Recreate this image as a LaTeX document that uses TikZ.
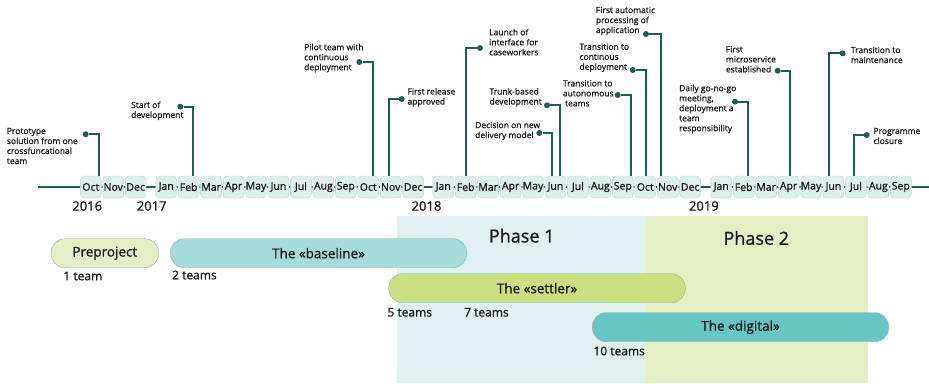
\documentclass[tikz,border=0pt]{standalone}
\usepackage{fontspec}
\setmainfont{Open Sans}[FakeBold=1]
\usetikzlibrary{positioning}

\definecolor{stemcol}{HTML}{1E5B5B}
\definecolor{boxfill}{HTML}{DCEFEA}
\definecolor{boxline}{HTML}{B4D8CF}
\definecolor{txtcol}{HTML}{1A1A1A}
\definecolor{phaseone}{HTML}{DFF0EE}
\definecolor{phasetwo}{HTML}{E5EDC4}
\definecolor{barline}{HTML}{8FB0A8}
\definecolor{prefill}{HTML}{E5EDC4}
\definecolor{basefill}{HTML}{A6DBDB}
\definecolor{settfill}{HTML}{CBDF80}
\definecolor{digifill}{HTML}{67C6C4}

\tikzset{
  mbox/.style={draw=boxline, fill=boxfill, rounded corners=4pt, minimum width=21pt,
    minimum height=22pt, inner sep=0pt, text=txtcol, font=\fontsize{10.5}{12}\selectfont},
  ev/.style={circle, fill=stemcol, inner sep=0pt, minimum size=6pt},
  evtext/.style={align=left, anchor=west, inner sep=0pt, text=txtcol,
    font=\fontsize{8.5}{10}\selectfont},
  stem/.style={draw=stemcol, line width=2pt},
  year/.style={text=txtcol, font=\fontsize{13}{15}\selectfont},
  bar/.style={draw=barline, rounded corners=14pt, minimum height=29pt, inner sep=0pt,
    text=txtcol, font=\fontsize{13.5}{15}\selectfont},
  teams/.style={anchor=west, inner sep=0pt, text=txtcol, font=\fontsize{12}{14}\selectfont},
  phase/.style={text=txtcol, font=\fontsize{18}{20}\selectfont},
}

\begin{document}
\begin{tikzpicture}[x=1pt,y=-1pt]
        \useasboundingbox (0,0) rectangle (929,383);
        % phases
        \fill [phaseone] (396.7,216) rectangle (645.3,383);
        \fill [phasetwo] (645.3,216) rectangle (868,383);
        \node [phase] (ph1) at (521.7,235.7) {Phase 1};
        \node [phase] (ph2) at (756.3,238) {Phase 2};

        % time axis
        \coordinate (axl) at (38.3,187);
        \coordinate (axr) at (929,187);
        \draw [stem] (axl) -- (axr);
        \foreach \m [count=\i from 10] in {Oct,Nov,Dec}
            \node [mbox] (m16-\i) at ({90.8+22.45*(\i-10)},187) {\m};
        \foreach \m [count=\i] in {Jan,Feb,Mar,Apr,May,Jun,Jul,Aug,Sep,Oct,Nov,Dec} {
            \node [mbox] (m17-\i) at ({166.2+22.45*(\i-1)},187) {\m};
            \node [mbox] (m18-\i) at ({443.2+22.45*(\i-1)},187) {\m};
        }
        \foreach \m [count=\i] in {Jan,Feb,Mar,Apr,May,Jun,Jul,Aug,Sep}
            \node [mbox] (m19-\i) at ({721.2+22.45*(\i-1)},187) {\m};
        \node [year] (y16) at (87.2,206) {2016};
        \node [year] (y17) at (151.7,206) {2017};
        \node [year] (y18) at (426.5,206) {2018};
        \node [year] (y19) at (703.8,206) {2019};

        % events
        \node [ev] (e1) at (85.7,134.3) {};
        \draw [stem] (e1) -| ([xshift=8.5]m16-10.north);
        \node [evtext] (t1) at (6.7,146) {Prototype\\solution from one\\crossfuncational\\team};
        \node [ev] (e2) at (180.3,106.7) {};
        \draw [stem] (e2) -| ([xshift=4.7]m17-2.north);
        \node [evtext] (t2) at (131,110.7) {Start of\\development};
        \node [ev] (e3) at (359.3,62) {};
        \draw [stem] (e3) -| ([xshift=4.4]m17-10.north);
        \node [evtext] (t3) at (304,58) {Pilot team with\\continuous\\deployment};
        \node [ev] (e4) at (401.7,99) {};
        \draw [stem] (e4) -| ([xshift=-1.7]m17-11.north);
        \node [evtext] (t4) at (407.3,97.3) {First release\\approved};
        \node [ev] (e5) at (480,48) {};
        \draw [stem] (e5) -| (m18-2.north);
        \node [evtext] (t5) at (489,42.1) {Launch of\\interface for\\caseworkers};
        \node [ev] (e6) at (539.3,133) {};
        \draw [stem] (e6) -| ([xshift=-3.1]m18-6.north);
        \node [evtext] (t6) at (475,131) {Decision on new\\delivery model};
        \node [ev] (e7) at (547,105.3) {};
        \draw [stem] (e7) -| ([xshift=4.3]m18-6.north);
        \node [evtext] (t7) at (489.3,97.3) {Trunk-based\\development};
        \node [ev] (e8) at (617.7,95) {};
        \draw [stem] (e8) -| ([xshift=7.9]m18-9.north);
        \node [evtext] (t8) at (562.7,93.3) {Transition to\\autonomous\\\ teams};
        \node [ev] (e9) at (632.7,70) {};
        \draw [stem] (e9) -| ([xshift=1]m18-10.north);
        \node [evtext] (t9) at (579.3,57.7) {Transition to\\continous\\deployment};
        \node [ev] (e10) at (646,34) {};
        \draw [stem] (e10) -| ([xshift=-7]m18-11.north);
        \node [evtext] (t10) at (595.7,21) {First automatic\\processing of\\application};
        \node [ev] (e11) at (735,101.7) {};
        \draw [stem] (e11) -| ([xshift=4.3]m19-2.north);
        \node [evtext] (t11) at (679,109) {Daily go-no-go\\meeting,\\deployment a\\team\\responsibility};
        \node [ev] (e12) at (777.7,70.7) {};
        \draw [stem] (e12) -| ([xshift=1.5]m19-4.north);
        \node [evtext] (t12) at (725.7,59.3) {First\\microservice\\established};
        \node [ev] (e13) at (842.7,53.3) {};
        \draw [stem] (e13) -| ([xshift=-4.7]m19-6.north);
        \node [evtext] (t13) at (850.7,55) {Transition to\\maintenance};
        \node [ev] (e14) at (866.7,135) {};
        \draw [stem] (e14) -| ([xshift=-2.2]m19-7.north);
        \node [evtext] (t14) at (873.3,136) {Programme\\closure};

        % bars
        \node [bar, fill=prefill, minimum width=107.7] (pre) at (104.85,253.2) {Preproject};
        \node [bar, fill=basefill, minimum width=296.4] (base) at (318.5,253.2) {The «baseline»};
        \node [bar, fill=settfill, minimum width=296.6] (sett) at (537,288.2) {The «settler»};
        \node [bar, fill=digifill, minimum width=296.4] (digi) at (740.5,327.2) {The «digital»};
        \node [teams] (n1) at (63.3,276) {1 team};
        \node [teams] (n2) at (172,275) {2 teams};
        \node [teams] (n5) at (387.3,312.3) {5 teams};
        \node [teams] (n7) at (464,312.3) {7 teams};
        \node [teams] (n10) at (593.3,351) {10 teams};
\end{tikzpicture}
\end{document}
